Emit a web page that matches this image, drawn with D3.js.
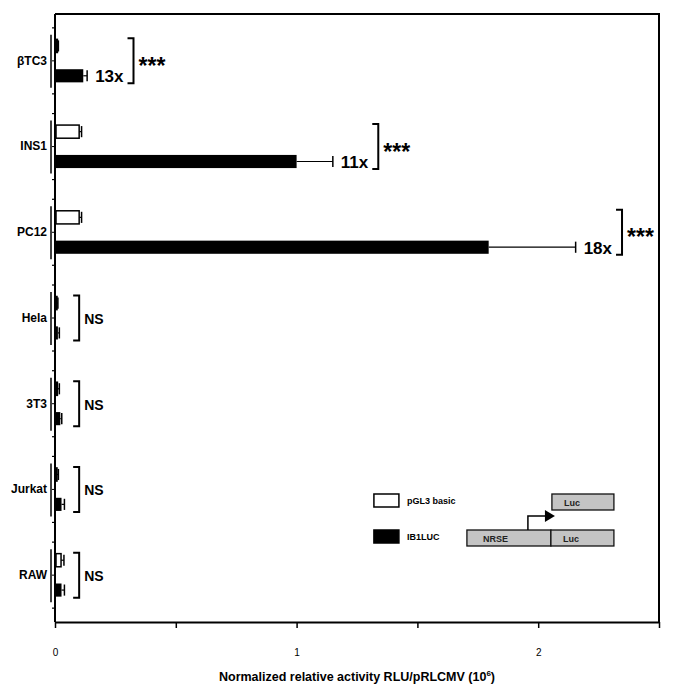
<!DOCTYPE html>
<html>
<head>
<meta charset="utf-8">
<script src="https://cdn.jsdelivr.net/npm/d3@7"></script>
<style>
  body { margin: 0; background: #fff; }
  svg { display: block; font-family: "Liberation Sans", Arial, Helvetica, sans-serif; }
  .gras { font-weight: bold; }
</style>
</head>
<body>
<div id="graph"></div>
<script>
// lignées cellulaires et séries
var lignees = ["βTC3", "INS1", "PC12", "Hela", "3T3", "Jurkat", "RAW"];
var series = ["pGL3 basic", "IB1LUC"];

// valeurs (RLU/pRLCMV, 10^6)
var pgl3 = [0.01, 0.1, 0.1, 0.008, 0.01, 0.006, 0.025];
var pgl3Err = [0.004, 0.01, 0.01, 0.004, 0.008, 0.008, 0.012];
var ib1luc = [0.117, 1.0, 1.795, 0.012, 0.022, 0.027, 0.027];
var ib1lucErr = [0.016, 0.15, 0.36, 0.006, 0.006, 0.012, 0.012];
var facteurs = ["13x", "11x", "18x", "", "", "", ""];
var signif = ["***", "***", "***", "NS", "NS", "NS", "NS"];
var ticksX = [0, 0.5, 1, 1.5, 2, 2.5];

const width = 674, height = 694;
const marge = { top: 14, right: 15, bottom: 72, left: 55 };
const w = width - marge.left - marge.right;
const h = height - marge.top - marge.bottom;

const svg = d3.select("#graph").append("svg")
    .attr("width", width)
    .attr("height", height);

const g = svg.append("g").attr("transform", `translate(${marge.left},${marge.top})`);

const x = d3.scaleLinear().domain([0, 2.5]).range([0, w]);
const y = d3.scaleBand().domain(lignees).range([4, h - 4]);
const ySub = d3.scaleBand().domain(series).range([-21.5, 21.5]).paddingInner(0.56);

// cadre haut et droit
g.append("path")
    .attr("d", `M0,0H${w}V${h}`)
    .attr("fill", "none").attr("stroke", "#000").attr("stroke-width", 2);

// axe x
const axeX = g.append("g")
    .attr("transform", `translate(0,${h})`)
    .call(d3.axisBottom(x).tickValues(ticksX).tickSize(6).tickSizeOuter(0).tickPadding(21)
        .tickFormat(d => Number.isInteger(d) ? d : ""));
axeX.select(".domain").attr("stroke-width", 2);
axeX.selectAll(".tick line").attr("stroke-width", 1.5);
axeX.selectAll("text").attr("font-size", 10).attr("font-family", "Liberation Sans, Arial, sans-serif");

// axe y
const axeY = g.append("g")
    .call(d3.axisLeft(y).tickSize(3).tickSizeOuter(0).tickPadding(5));
axeY.select(".domain").attr("stroke-width", 2).attr("d", `M0,0V${h}`);
axeY.selectAll("text").attr("font-size", 12).attr("font-weight", "bold")
    .attr("font-family", "Liberation Sans, Arial, sans-serif");

// petits ticks supplémentaires et trait de groupe
lignees.forEach(function (l) {
    const c = y(l) + y.bandwidth() / 2;
    [-33, 33].forEach(function (d) {
        g.append("line").attr("x1", -3).attr("x2", 0).attr("y1", c + d).attr("y2", c + d)
            .attr("stroke", "#000").attr("stroke-width", 1.2);
    });
    g.append("line").attr("x1", -4).attr("x2", -4).attr("y1", c - 26).attr("y2", c + 27)
        .attr("stroke", "#000").attr("stroke-width", 1.5);
});

// construction des barres
var barres = [];
lignees.forEach(function (l, i) {
    barres.push({ lignee: l, serie: series[0], val: pgl3[i], err: pgl3Err[i] });
    barres.push({ lignee: l, serie: series[1], val: ib1luc[i], err: ib1lucErr[i] });
});
const yBar = d => y(d.lignee) + y.bandwidth() / 2 + ySub(d.serie);

g.append("g").selectAll("line")
    .data(barres)
    .enter().append("line")
    .attr("x1", d => x(d.val)).attr("x2", d => x(d.val + d.err))
    .attr("y1", d => yBar(d) + ySub.bandwidth() / 2)
    .attr("y2", d => yBar(d) + ySub.bandwidth() / 2)
    .attr("stroke", "#000").attr("stroke-width", 1.2);

g.append("g").selectAll("line")
    .data(barres)
    .enter().append("line")
    .attr("x1", d => x(d.val + d.err)).attr("x2", d => x(d.val + d.err))
    .attr("y1", d => yBar(d) + 1)
    .attr("y2", d => yBar(d) + ySub.bandwidth() - 1)
    .attr("stroke", "#000").attr("stroke-width", 1.5);

g.append("g").selectAll("rect")
    .data(barres)
    .enter().append("rect")
    .attr("x", 1)
    .attr("y", d => yBar(d))
    .attr("width", d => Math.max(1, x(d.val) - 1))
    .attr("height", ySub.bandwidth())
    .attr("fill", d => d.serie === series[1] ? "#000" : "#fff")
    .attr("stroke", "#000")
    .attr("stroke-width", d => d.serie === series[1] ? 0 : 1.5);

// facteurs d'induction, crochets et significativité
lignees.forEach(function (l, i) {
    const c = y(l) + y.bandwidth() / 2;
    const haut = c + ySub(series[0]) - 1;
    const bas = c + ySub(series[1]) + ySub.bandwidth() + 1;
    let xc;
    if (facteurs[i]) {
        const xt = x(ib1luc[i] + ib1lucErr[i]) + 8;
        const t = g.append("text").attr("class", "gras")
            .attr("x", xt).attr("y", bas - 1)
            .attr("font-size", 17).text(facteurs[i]);
        xc = xt + t.node().getComputedTextLength() + 10;
    } else {
        xc = x(0.1);
    }
    g.append("path")
        .attr("d", `M${xc - 6},${haut}H${xc}V${bas}H${xc - 6}`)
        .attr("fill", "none").attr("stroke", "#000").attr("stroke-width", 2);
    g.append("text").attr("class", "gras")
        .attr("x", xc + 5)
        .attr("y", signif[i] === "NS" ? c + 6 : c + 13)
        .attr("font-size", signif[i] === "NS" ? 14 : 23)
        .text(signif[i]);
});

// titre de l'axe x
const titre = g.append("text").attr("class", "gras")
    .attr("x", w / 2).attr("y", h + 59)
    .attr("text-anchor", "middle").attr("font-size", 12.5)
    .text("Normalized relative activity RLU/pRLCMV (10");
titre.append("tspan").attr("font-size", 8).attr("dy", -5).text("6");
titre.append("tspan").attr("dy", 5).text(")");

// légende
const leg = g.append("g").attr("transform", `translate(${x(1.32)},${h - 128})`);
series.forEach(function (s, i) {
    leg.append("rect").attr("x", 0).attr("y", i * 36).attr("width", 25).attr("height", 13)
        .attr("fill", i ? "#000" : "#fff").attr("stroke", "#000").attr("stroke-width", 1.5);
    leg.append("text").attr("class", "gras").attr("x", 33).attr("y", i * 36 + 10)
        .attr("font-size", 9).text(s);
});

// schéma de la construction
const schema = leg.append("g").attr("transform", "translate(93,0)");
const boite = function (bx, by, bw, texte, tx) {
    schema.append("rect").attr("x", bx).attr("y", by).attr("width", bw).attr("height", 16)
        .attr("fill", "#c4c4c4").attr("stroke", "#111").attr("stroke-width", 1.3);
    schema.append("text").attr("class", "gras").attr("x", bx + tx).attr("y", by + 12)
        .attr("font-size", 9).attr("fill", "#222").text(texte);
};
boite(85, 0, 62, "Luc", 12);
boite(0, 36, 84, "NRSE", 16);
boite(84, 36, 63, "Luc", 12);
schema.append("path").attr("d", "M61,36V22H80")
    .attr("fill", "none").attr("stroke", "#000").attr("stroke-width", 1.5);
schema.append("path").attr("d", "M78,16L88,22L78,28Z").attr("fill", "#000");
</script>
</body>
</html>
